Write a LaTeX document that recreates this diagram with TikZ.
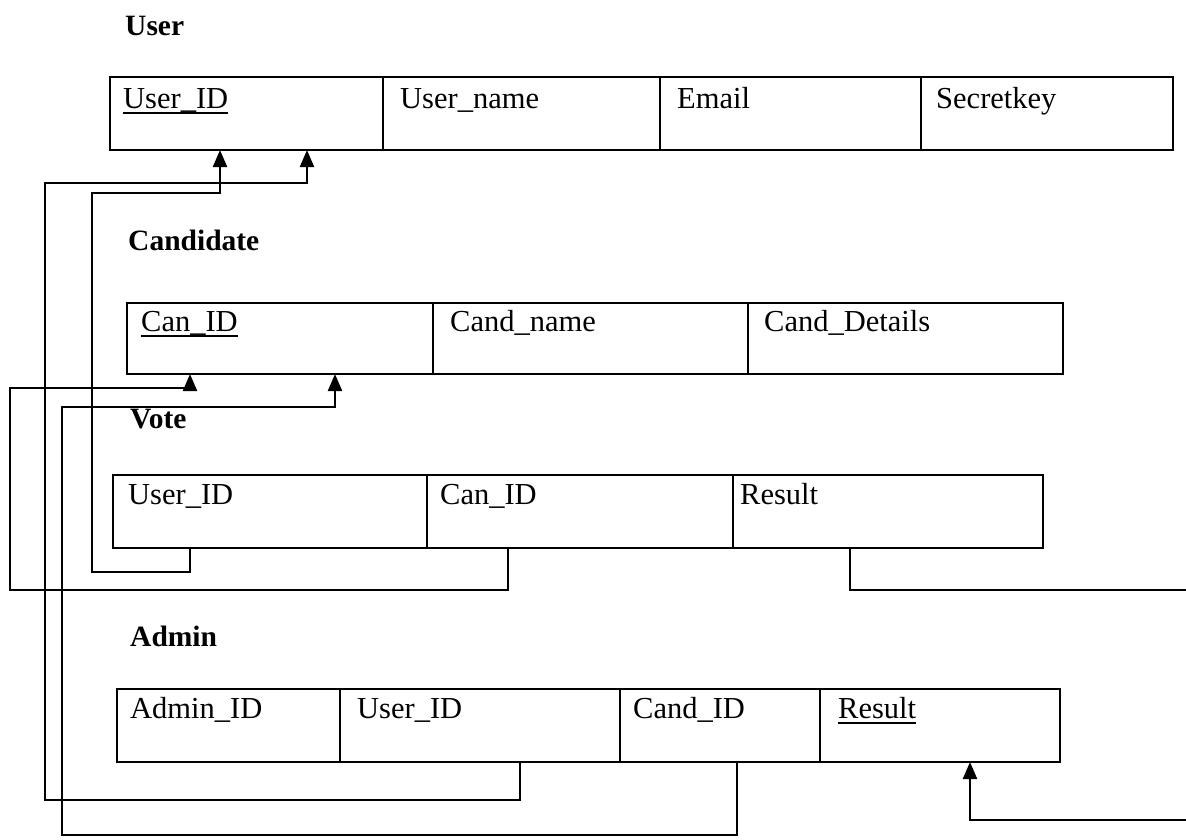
\documentclass[tikz,border=0pt]{standalone}
\usepackage{fontspec}
\setmainfont{Liberation Serif}
\usetikzlibrary{arrows.meta}
\begin{document}
\begin{tikzpicture}[x=1pt,y=-1pt,
  cellbox/.style={draw, line width=2pt, rectangle, inner sep=0pt, outer sep=0pt, anchor=north west},
  ftext/.style={anchor=base west, inner sep=0pt, font=\fontsize{30.5}{34}\selectfont},
  ttl/.style={anchor=base west, inner sep=0pt, font=\fontsize{29.5}{33}\selectfont\bfseries},
  uline/.style={line width=1.6pt},
  conn/.style={line width=2.2pt},
  arr/.style={line width=2.2pt, -{Triangle[width=14pt,length=17pt]}},
]
\useasboundingbox (0,0) rectangle (1186,839);
% titles
\node[ttl] (tUser) at (125,35) {User};
\node[ttl] (tCand) at (128,250) {Candidate};
\node[ttl] (tVote) at (130,428) {Vote};
\node[ttl] (tAdmin) at (130,646) {Admin};
% User table
\node[cellbox, minimum width=273pt, minimum height=73pt] (u1) at (110,77) {};
\node[cellbox, minimum width=277pt, minimum height=73pt] (u2) at (383,77) {};
\node[cellbox, minimum width=261pt, minimum height=73pt] (u3) at (660,77) {};
\node[cellbox, minimum width=252pt, minimum height=73pt] (u4) at (921,77) {};
\node[ftext] (xu1) at ([xshift=13pt,yshift=-31pt]u1.north west) {User\_ID};
\node[ftext] (xu2) at ([xshift=17pt,yshift=-31pt]u2.north west) {User\_name};
\node[ftext] (xu3) at ([xshift=17pt,yshift=-31pt]u3.north west) {Email};
\node[ftext] (xu4) at ([xshift=15pt,yshift=-31pt]u4.north west) {Secretkey};
\draw[uline] ([yshift=-5pt]xu1.base west) -- ([yshift=-5pt]xu1.base east);
% Candidate table
\node[cellbox, minimum width=306pt, minimum height=71pt] (c1) at (127,303) {};
\node[cellbox, minimum width=315pt, minimum height=71pt] (c2) at (433,303) {};
\node[cellbox, minimum width=315pt, minimum height=71pt] (c3) at (748,303) {};
\node[ftext] (xc1) at ([xshift=14pt,yshift=-28pt]c1.north west) {Can\_ID};
\node[ftext] (xc2) at ([xshift=17pt,yshift=-28pt]c2.north west) {Cand\_name};
\node[ftext] (xc3) at ([xshift=16pt,yshift=-28pt]c3.north west) {Cand\_Details};
\draw[uline] ([yshift=-5pt]xc1.base west) -- ([yshift=-5pt]xc1.base east);
% Vote table
\node[cellbox, minimum width=314pt, minimum height=73pt] (v1) at (113,475) {};
\node[cellbox, minimum width=306pt, minimum height=73pt] (v2) at (427,475) {};
\node[cellbox, minimum width=310pt, minimum height=73pt] (v3) at (733,475) {};
\node[ftext] (xv1) at ([xshift=15pt,yshift=-29pt]v1.north west) {User\_ID};
\node[ftext] (xv2) at ([xshift=13pt,yshift=-29pt]v2.north west) {Can\_ID};
\node[ftext] (xv3) at ([xshift=7pt,yshift=-29pt]v3.north west) {Result};
% Admin table
\node[cellbox, minimum width=223pt, minimum height=73pt] (a1) at (117,689) {};
\node[cellbox, minimum width=280pt, minimum height=73pt] (a2) at (340,689) {};
\node[cellbox, minimum width=200pt, minimum height=73pt] (a3) at (620,689) {};
\node[cellbox, minimum width=240pt, minimum height=73pt] (a4) at (820,689) {};
\node[ftext] (xa1) at ([xshift=13pt,yshift=-29pt]a1.north west) {Admin\_ID};
\node[ftext] (xa2) at ([xshift=17pt,yshift=-29pt]a2.north west) {User\_ID};
\node[ftext] (xa3) at ([xshift=13pt,yshift=-29pt]a3.north west) {Cand\_ID};
\node[ftext] (xa4) at ([xshift=18pt,yshift=-29pt]a4.north west) {Result};
\draw[uline] ([yshift=-5pt]xa4.base west) -- ([yshift=-5pt]xa4.base east);
% connector anchor points
\coordinate (pu1a) at ([xshift=110pt]u1.south west);
\coordinate (pu1b) at ([xshift=197pt]u1.south west);
\coordinate (pc1a) at ([xshift=63pt]c1.south west);
\coordinate (pc1b) at ([xshift=208pt]c1.south west);
\coordinate (pv1) at ([xshift=77pt]v1.south west);
\coordinate (pv2) at ([xshift=81pt]v2.south west);
\coordinate (pv3) at ([xshift=117pt]v3.south west);
\coordinate (pa2) at ([xshift=180pt]a2.south west);
\coordinate (pa3) at ([xshift=117pt]a3.south west);
\coordinate (pa4) at ([xshift=150pt]a4.south west);
\coordinate (edgeA) at (1186,590);
\coordinate (edgeB) at (1186,820);
% connectors
\draw[arr] (pv1) |- (92,572) -- (92,193) -| (pu1a);
\draw[arr] (pa2) |- (45,800) -- (45,183) -| (pu1b);
\draw[arr] (pv2) |- (10,590) -- (10,388) -| (pc1a);
\draw[arr] (pa3) |- (62,835) -- (62,407) -| (pc1b);
\draw[conn] (pv3) |- (edgeA);
\draw[arr] (edgeB) -| (pa4);
\end{tikzpicture}
\end{document}
